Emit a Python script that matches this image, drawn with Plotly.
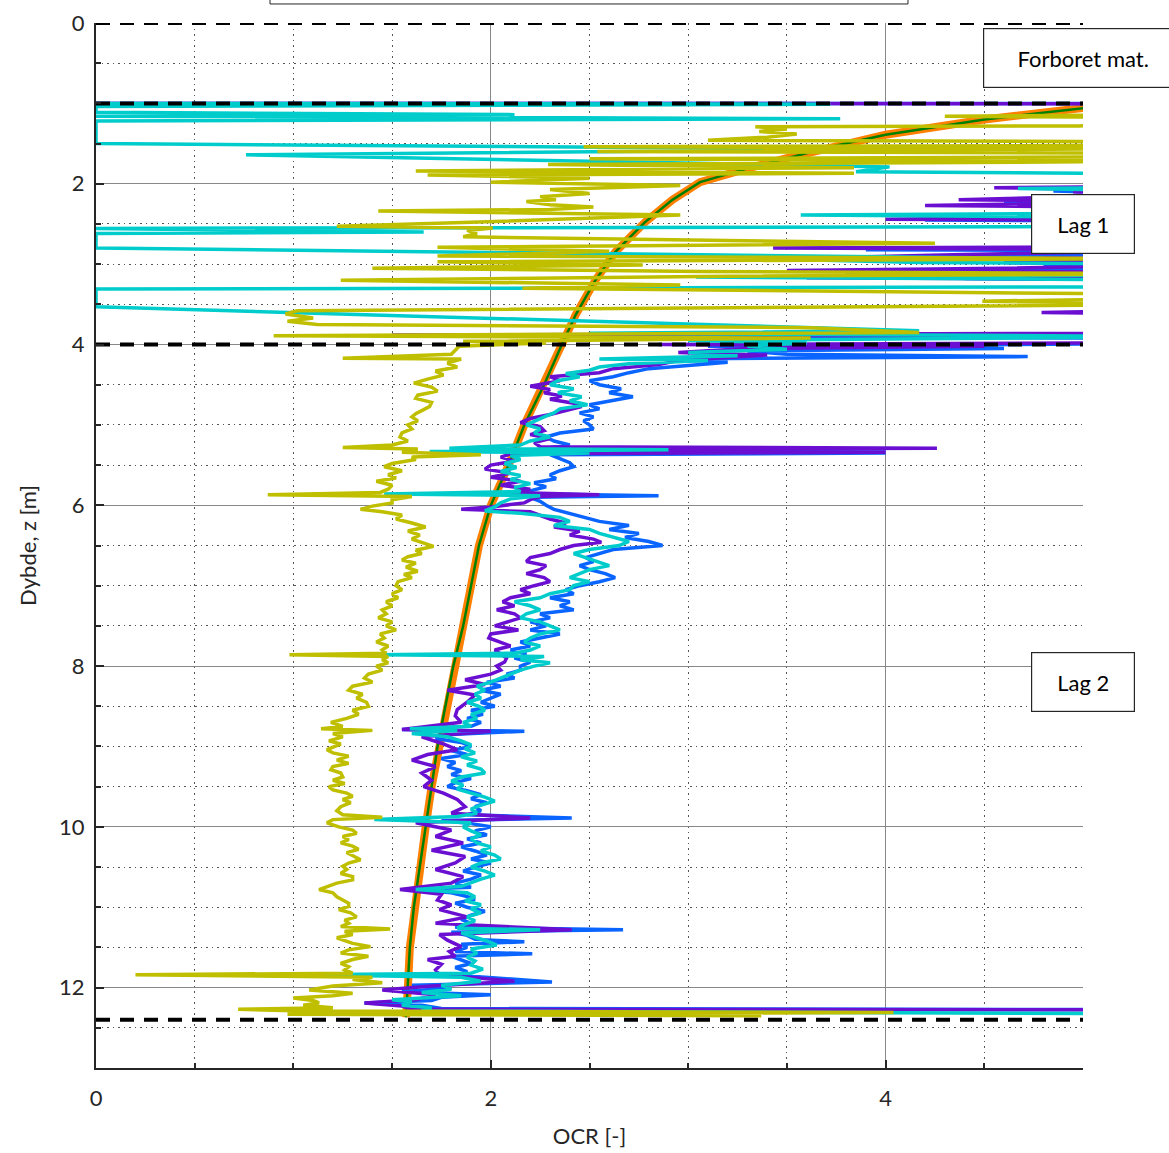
import plotly.graph_objects as go

# layer boundaries [m]
boundary_depths = [0.0, 1.0, 4.0, 12.4]

# theoretical OCR profile
ocr_line_depth = [1.0, 1.06, 1.2, 1.39, 1.53, 1.68, 1.83, 1.98, 2.2, 2.48, 2.85, 3.2, 3.63, 4.0, 4.5,
                  5.0, 5.5, 6.0, 6.5, 7.0, 7.5, 8.0, 8.5, 9.0, 9.5, 10.0, 10.5, 11.0, 11.5, 12.0, 12.37]
ocr_line_value = [5.2, 5.0, 4.5, 4.0, 3.74, 3.5, 3.27, 3.06, 2.92, 2.78, 2.63, 2.53, 2.43, 2.36, 2.27,
                  2.17, 2.09, 2.0, 1.94, 1.9, 1.86, 1.81, 1.77, 1.73, 1.70, 1.67, 1.64, 1.61, 1.59, 1.58, 1.57]

# CPTU derived OCR (four correlations), (depth, OCR)
purple_pts = [
    (1.00, -0.5), (1.005, 7.0), (1.5, 8.0), (2.0, 7.0), (2.02, 6.0), (2.05, 4.55), (2.07, 5.2), (2.10, 4.95),
    (2.14, 5.3), (2.18, 4.75), (2.2, 4.37), (2.22, 5.5), (2.27, 4.2), (2.3, 5.5), (2.4, 5.6), (2.44, 4.0),
    (2.46, 5.6), (2.6, 6.0), (2.78, 6.0), (2.8, 3.43), (2.82, 5.8), (2.88, 4.4), (2.91, 3.85), (2.93, 5.5),
    (2.98, 4.6), (3.0, 5.8), (3.05, 4.6), (3.08, 3.5), (3.1, 5.6), (3.14, 4.9), (3.17, 3.6), (3.19, 5.7),
    (3.4, 6.0), (3.58, 5.4), (3.6, 4.79), (3.63, 5.5), (3.8, 6.0), (3.86, 5.5), (3.88, 1.5), (3.9, 5.8),
    (3.97, 6.0), (4.0, 2.85), (4.02, 4.5), (4.05, 3.3), (4.1, 2.95), (4.13, 3.4), (4.17, 3.1), (4.2, 2.95),
    (4.25, 2.85), (4.3, 2.62), (4.35, 2.55), (4.4, 2.3), (4.45, 2.35), (4.52, 2.2), (4.56, 2.3), (4.6, 2.27),
    (4.64, 2.36), (4.68, 2.3), (4.73, 2.42), (4.77, 2.46), (4.82, 2.38), (4.87, 2.3), (4.92, 2.2), (4.97, 2.15),
    (5.02, 2.25), (5.07, 2.27), (5.12, 2.2), (5.17, 2.3), (5.22, 2.22), (5.27, 2.25), (5.29, 4.26), (5.31, 2.0),
    (5.34, 4.0), (5.36, 2.1), (5.4, 2.05), (5.45, 2.12), (5.5, 2.0), (5.55, 1.97), (5.6, 2.1), (5.65, 2.0),
    (5.7, 2.15), (5.75, 2.05), (5.8, 2.2), (5.84, 2.1), (5.87, 2.55), (5.89, 2.25), (5.93, 2.2), (5.97, 2.17),
    (6.02, 2.0), (6.05, 1.85), (6.08, 2.2), (6.12, 2.25), (6.17, 2.3), (6.22, 2.38), (6.27, 2.32), (6.32, 2.45),
    (6.37, 2.4), (6.42, 2.52), (6.46, 2.56), (6.5, 2.42), (6.55, 2.35), (6.6, 2.3), (6.65, 2.2), (6.7, 2.18),
    (6.75, 2.28), (6.8, 2.25), (6.85, 2.18), (6.9, 2.27), (6.95, 2.3), (7.0, 2.22), (7.05, 2.15), (7.1, 2.2),
    (7.15, 2.1), (7.2, 2.06), (7.25, 2.12), (7.3, 2.03), (7.35, 2.12), (7.4, 2.15), (7.45, 2.08), (7.5, 2.02),
    (7.55, 2.14), (7.6, 2.0), (7.65, 1.99), (7.7, 2.05), (7.75, 2.1), (7.8, 2.02), (7.85, 2.05), (7.9, 2.08),
    (7.95, 2.07), (8.0, 2.03), (8.05, 2.05), (8.1, 2.0), (8.17, 1.87), (8.23, 1.97), (8.3, 1.78), (8.36, 1.92),
    (8.45, 1.88), (8.54, 1.83), (8.62, 1.82), (8.7, 1.85), (8.79, 1.55), (8.81, 2.0), (8.88, 1.65), (8.96, 1.75),
    (9.04, 1.83), (9.1, 1.68), (9.17, 1.60), (9.25, 1.72), (9.33, 1.65), (9.42, 1.70), (9.5, 1.66), (9.58, 1.76),
    (9.66, 1.83), (9.75, 1.87), (9.83, 1.80), (9.89, 2.2), (9.95, 1.62), (10.04, 1.8), (10.12, 1.72), (10.2, 1.86),
    (10.29, 1.70), (10.37, 1.87), (10.45, 1.82), (10.53, 1.72), (10.62, 1.86), (10.7, 1.80), (10.78, 1.54),
    (10.84, 1.75), (10.91, 1.73), (10.97, 1.80), (11.03, 1.74), (11.12, 1.88), (11.2, 1.72), (11.28, 2.41),
    (11.34, 1.74), (11.41, 1.78), (11.49, 1.85), (11.55, 1.79), (11.61, 1.82), (11.65, 1.68), (11.71, 1.75),
    (11.78, 1.72), (11.84, 1.74), (11.92, 2.12), (11.98, 1.70), (12.03, 1.45), (12.09, 1.72), (12.15, 1.62),
    (12.19, 1.36), (12.23, 1.55), (12.27, 1.6), (12.28, 7.0),
]

blue_pts = [
    (1.00, -0.5), (1.004, 7.0), (1.6, 8.0), (2.0, 7.0), (2.06, 5.3), (2.09, 4.85), (2.12, 5.4), (2.2, 5.6),
    (2.24, 4.6), (2.27, 5.5), (2.42, 5.6), (2.45, 4.2), (2.47, 5.6), (2.8, 6.0), (2.82, 3.9), (2.84, 5.7),
    (2.9, 4.7), (2.93, 4.0), (2.95, 5.5), (3.0, 4.8), (3.02, 5.7), (3.1, 3.8), (3.12, 5.6), (3.18, 4.4),
    (3.2, 5.7), (3.86, 6.0), (3.9, 3.5), (3.93, 5.8), (3.98, 6.0), (4.02, 3.1), (4.05, 4.6), (4.08, 3.3),
    (4.12, 3.5), (4.15, 4.72), (4.18, 2.86), (4.22, 3.2), (4.26, 3.0), (4.3, 2.8), (4.35, 2.7), (4.4, 2.62),
    (4.45, 2.5), (4.5, 2.55), (4.55, 2.66), (4.6, 2.6), (4.65, 2.72), (4.7, 2.62), (4.75, 2.5), (4.8, 2.55),
    (4.85, 2.45), (4.9, 2.52), (4.95, 2.47), (5.0, 2.5), (5.05, 2.52), (5.1, 2.35), (5.15, 2.28), (5.2, 2.32),
    (5.25, 2.4), (5.28, 2.3), (5.30, 4.0), (5.32, 2.2), (5.35, 4.0), (5.37, 2.3), (5.42, 2.35), (5.47, 2.4),
    (5.52, 2.42), (5.57, 2.35), (5.62, 2.3), (5.67, 2.33), (5.72, 2.22), (5.77, 2.28), (5.82, 2.2), (5.86, 2.25),
    (5.88, 2.85), (5.9, 2.2), (5.95, 2.25), (6.0, 2.28), (6.05, 2.32), (6.1, 2.4), (6.15, 2.48), (6.2, 2.55),
    (6.25, 2.7), (6.3, 2.6), (6.35, 2.75), (6.4, 2.68), (6.45, 2.8), (6.5, 2.87), (6.55, 2.62), (6.6, 2.55),
    (6.65, 2.48), (6.7, 2.52), (6.75, 2.45), (6.8, 2.5), (6.85, 2.58), (6.9, 2.63), (6.95, 2.55), (7.0, 2.45),
    (7.05, 2.38), (7.1, 2.42), (7.15, 2.3), (7.2, 2.4), (7.25, 2.35), (7.3, 2.42), (7.35, 2.25), (7.4, 2.3),
    (7.45, 2.2), (7.5, 2.28), (7.55, 2.2), (7.6, 2.35), (7.65, 2.25), (7.7, 2.15), (7.75, 2.2), (7.8, 2.1),
    (7.85, 2.18), (7.9, 2.12), (7.95, 2.2), (8.0, 2.15), (8.05, 2.15), (8.1, 2.08), (8.15, 2.12), (8.2, 1.98),
    (8.25, 2.05), (8.3, 1.95), (8.35, 2.05), (8.4, 2.0), (8.45, 1.95), (8.5, 2.02), (8.55, 1.9), (8.6, 1.96),
    (8.65, 1.88), (8.7, 1.95), (8.75, 1.9), (8.79, 1.55), (8.81, 2.17), (8.85, 1.8), (8.9, 1.72), (8.95, 1.85),
    (9.0, 1.9), (9.05, 1.8), (9.1, 1.88), (9.15, 1.75), (9.2, 1.82), (9.25, 1.78), (9.3, 1.85), (9.35, 1.8),
    (9.4, 1.9), (9.45, 1.82), (9.5, 1.78), (9.55, 1.88), (9.6, 1.95), (9.65, 1.9), (9.7, 1.98), (9.75, 1.92),
    (9.8, 1.95), (9.85, 1.88), (9.89, 2.41), (9.92, 1.75), (9.96, 1.9), (10.0, 2.0), (10.05, 1.92), (10.1, 1.98),
    (10.15, 1.88), (10.2, 1.95), (10.25, 1.85), (10.3, 1.92), (10.35, 1.98), (10.4, 1.9), (10.45, 2.0),
    (10.5, 1.92), (10.55, 1.86), (10.6, 1.95), (10.65, 1.9), (10.7, 1.82), (10.75, 1.9), (10.78, 1.6),
    (10.82, 1.8), (10.86, 1.87), (10.9, 1.92), (10.95, 1.82), (11.0, 1.88), (11.05, 1.97), (11.1, 1.9),
    (11.15, 1.85), (11.2, 1.9), (11.25, 1.82), (11.28, 2.67), (11.31, 1.8), (11.35, 1.88), (11.4, 1.92),
    (11.43, 2.17), (11.46, 1.85), (11.5, 1.88), (11.55, 1.82), (11.58, 2.21), (11.61, 1.8), (11.65, 1.85),
    (11.7, 1.9), (11.75, 1.82), (11.8, 1.88), (11.85, 1.85), (11.93, 2.31), (11.97, 1.6), (12.0, 1.8),
    (12.05, 1.55), (12.09, 2.0), (12.12, 1.75), (12.16, 1.7), (12.19, 1.36), (12.22, 1.65), (12.26, 1.75),
    (12.28, 7.0),
]

cyan_pts = [
    (1.00, -0.3), (1.01, 3.72), (1.04, 0.0), (1.11, 0.0), (1.14, 2.12), (1.16, 0.0), (1.19, 3.77), (1.22, 0.0),
    (1.5, 0.0), (1.57, 3.92), (1.64, 0.76), (1.79, 4.02), (1.85, 3.85), (1.88, 5.6), (2.04, 5.6), (2.06, 4.67),
    (2.09, 5.6), (2.36, 5.6), (2.39, 3.57), (2.42, 5.6), (2.53, 5.6), (2.555, 0.0), (2.6, 1.66), (2.62, 0.0),
    (2.8, 0.0), (2.93, 4.8), (2.95, 3.69), (2.98, 4.17), (3.0, 5.6), (3.13, 5.6), (3.16, 3.04), (3.2, 5.6),
    (3.28, 5.6), (3.31, 0.0), (3.53, 0.0), (3.83, 4.17), (3.86, 2.5), (3.9, 5.6), (3.95, 3.0), (3.98, 3.6),
    (4.02, 3.3), (4.06, 3.5), (4.1, 3.0), (4.14, 3.25), (4.18, 2.55), (4.2, 3.1), (4.24, 2.7), (4.28, 2.55),
    (4.32, 2.5), (4.36, 2.38), (4.4, 2.45), (4.45, 2.34), (4.5, 2.3), (4.55, 2.42), (4.6, 2.34), (4.65, 2.46),
    (4.7, 2.4), (4.75, 2.49), (4.8, 2.35), (4.85, 2.32), (4.9, 2.27), (4.95, 2.22), (5.0, 2.18), (5.05, 2.25),
    (5.1, 2.22), (5.15, 2.3), (5.2, 2.2), (5.25, 2.15), (5.29, 1.79), (5.31, 2.9), (5.33, 1.69), (5.35, 2.5),
    (5.38, 2.1), (5.43, 2.15), (5.48, 2.07), (5.53, 2.13), (5.58, 2.05), (5.63, 2.15), (5.68, 2.1), (5.73, 2.2),
    (5.78, 2.12), (5.83, 2.15), (5.86, 1.46), (5.88, 2.25), (5.92, 2.1), (5.97, 2.05), (6.02, 2.02), (6.07, 1.97),
    (6.1, 2.15), (6.15, 2.35), (6.2, 2.4), (6.25, 2.32), (6.3, 2.5), (6.35, 2.55), (6.4, 2.62), (6.45, 2.7),
    (6.5, 2.65), (6.55, 2.5), (6.6, 2.42), (6.65, 2.48), (6.7, 2.55), (6.75, 2.6), (6.8, 2.5), (6.85, 2.45),
    (6.9, 2.4), (6.95, 2.5), (7.0, 2.42), (7.05, 2.4), (7.1, 2.3), (7.15, 2.25), (7.2, 2.12), (7.25, 2.2),
    (7.3, 2.25), (7.35, 2.18), (7.4, 2.15), (7.45, 2.25), (7.5, 2.3), (7.55, 2.35), (7.6, 2.25), (7.65, 2.2),
    (7.7, 2.17), (7.75, 2.25), (7.8, 2.2), (7.84, 2.12), (7.86, 1.44), (7.88, 2.27), (7.92, 2.15), (7.96, 2.3),
    (8.0, 2.22), (8.05, 2.15), (8.1, 2.1), (8.15, 2.05), (8.2, 2.0), (8.25, 1.93), (8.3, 1.97), (8.35, 1.92),
    (8.4, 1.95), (8.45, 1.88), (8.5, 1.94), (8.55, 1.97), (8.6, 1.9), (8.65, 1.93), (8.7, 1.86), (8.75, 1.9),
    (8.78, 1.59), (8.8, 1.83), (8.84, 1.6), (8.88, 1.78), (8.93, 1.85), (8.98, 1.9), (9.03, 1.87), (9.08, 1.92),
    (9.13, 1.85), (9.18, 1.93), (9.23, 1.88), (9.28, 1.95), (9.33, 1.97), (9.38, 1.85), (9.43, 1.8), (9.48, 1.86),
    (9.53, 1.83), (9.58, 1.9), (9.63, 1.97), (9.68, 2.02), (9.73, 1.95), (9.78, 1.9), (9.83, 1.93), (9.87, 1.83),
    (9.91, 1.41), (9.95, 1.9), (10.0, 1.86), (10.05, 1.9), (10.1, 1.95), (10.15, 1.9), (10.2, 1.93), (10.25, 2.0),
    (10.3, 1.95), (10.35, 2.02), (10.4, 2.05), (10.45, 1.95), (10.5, 1.9), (10.55, 1.97), (10.6, 2.02),
    (10.65, 1.95), (10.7, 1.9), (10.74, 1.85), (10.78, 1.62), (10.82, 1.88), (10.87, 1.92), (10.92, 1.87),
    (10.97, 1.95), (11.02, 1.9), (11.07, 1.95), (11.12, 1.88), (11.17, 1.92), (11.22, 1.86), (11.26, 1.83),
    (11.28, 2.25), (11.32, 1.85), (11.37, 1.92), (11.42, 1.98), (11.47, 2.03), (11.52, 1.9), (11.57, 1.93),
    (11.62, 1.88), (11.67, 1.92), (11.72, 1.9), (11.77, 1.96), (11.82, 1.9), (11.84, 1.06), (11.87, 1.85),
    (11.92, 1.95), (11.97, 1.75), (12.02, 1.8), (12.06, 1.65), (12.1, 1.85), (12.15, 1.5), (12.18, 1.6),
    (12.22, 1.55), (12.25, 1.7), (12.29, 1.65), (12.34, 7.0),
]

olive_pts = [
    (1.00, 7.0), (1.13, 6.0), (1.16, 4.3), (1.18, 5.6), (1.26, 5.6), (1.28, 4.98), (1.29, 3.34), (1.32, 3.5),
    (1.35, 3.36), (1.38, 3.55), (1.42, 3.4), (1.46, 3.1), (1.48, 5.6), (1.52, 5.6), (1.54, 2.47), (1.56, 5.6),
    (1.6, 2.54), (1.62, 5.6), (1.66, 5.6), (1.69, 2.5), (1.72, 5.6), (1.76, 2.29), (1.8, 3.84), (1.84, 1.62),
    (1.87, 3.84), (1.89, 1.68), (1.93, 2.5), (1.98, 2.0), (2.02, 2.96), (2.07, 2.3), (2.12, 2.5), (2.16, 2.25),
    (2.2, 2.33), (2.22, 2.18), (2.26, 2.3), (2.29, 2.52), (2.32, 2.3), (2.34, 1.43), (2.39, 2.96), (2.44, 2.4),
    (2.48, 1.9), (2.53, 1.22), (2.55, 2.01), (2.58, 1.88), (2.62, 1.93), (2.66, 1.86), (2.74, 4.25), (2.79, 1.73),
    (2.84, 2.6), (2.9, 1.73), (2.93, 5.6), (2.97, 1.73), (3.01, 2.77), (3.05, 1.4), (3.09, 3.07), (3.12, 5.6),
    (3.15, 3.2), (3.2, 1.24), (3.26, 2.96), (3.3, 2.16), (3.38, 5.6), (3.42, 5.6), (3.46, 4.49), (3.5, 5.6),
    (3.58, 1.02), (3.62, 0.96), (3.67, 1.1), (3.71, 0.97), (3.75, 1.12), (3.79, 3.62), (3.85, 4.17), (3.89, 0.9),
    (3.92, 3.62), (3.96, 1.86), (3.98, 2.28), (4.02, 1.84), (4.07, 1.82), (4.12, 1.8), (4.17, 1.25), (4.18, 1.85),
    (4.23, 1.78), (4.28, 1.83), (4.33, 1.72), (4.38, 1.76), (4.43, 1.68), (4.48, 1.61), (4.53, 1.7), (4.58, 1.73),
    (4.63, 1.63), (4.67, 1.62), (4.72, 1.7), (4.77, 1.69), (4.81, 1.66), (4.86, 1.62), (4.9, 1.6), (4.95, 1.63),
    (5.0, 1.58), (5.05, 1.6), (5.1, 1.55), (5.15, 1.54), (5.2, 1.58), (5.25, 1.5), (5.28, 1.25), (5.3, 1.63),
    (5.34, 1.55), (5.37, 1.95), (5.4, 1.6), (5.43, 1.62), (5.48, 1.5), (5.52, 1.46), (5.57, 1.55), (5.62, 1.48),
    (5.66, 1.52), (5.7, 1.42), (5.75, 1.5), (5.8, 1.48), (5.84, 1.44), (5.87, 0.87), (5.89, 1.6), (5.93, 1.5),
    (5.97, 1.5), (6.01, 1.4), (6.05, 1.34), (6.08, 1.45), (6.12, 1.55), (6.17, 1.52), (6.22, 1.6), (6.27, 1.67),
    (6.32, 1.58), (6.37, 1.64), (6.42, 1.6), (6.47, 1.66), (6.51, 1.71), (6.56, 1.62), (6.6, 1.65), (6.64, 1.58),
    (6.68, 1.55), (6.72, 1.62), (6.77, 1.57), (6.82, 1.63), (6.86, 1.56), (6.9, 1.6), (6.95, 1.53), (7.0, 1.52),
    (7.05, 1.55), (7.1, 1.5), (7.15, 1.53), (7.2, 1.47), (7.25, 1.5), (7.3, 1.45), (7.35, 1.47), (7.4, 1.43),
    (7.45, 1.5), (7.5, 1.47), (7.55, 1.52), (7.6, 1.44), (7.65, 1.46), (7.7, 1.42), (7.75, 1.48), (7.8, 1.45),
    (7.84, 1.47), (7.86, 0.98), (7.88, 1.48), (7.92, 1.45), (7.96, 1.48), (8.0, 1.42), (8.05, 1.45), (8.1, 1.38),
    (8.15, 1.36), (8.2, 1.4), (8.25, 1.3), (8.3, 1.28), (8.35, 1.35), (8.4, 1.32), (8.45, 1.37), (8.5, 1.38),
    (8.55, 1.3), (8.6, 1.33), (8.65, 1.27), (8.7, 1.19), (8.75, 1.25), (8.78, 1.14), (8.8, 1.4), (8.84, 1.2),
    (8.88, 1.25), (8.93, 1.18), (8.97, 1.24), (9.0, 1.21), (9.04, 1.17), (9.08, 1.2), (9.12, 1.28), (9.17, 1.22),
    (9.21, 1.28), (9.25, 1.2), (9.29, 1.19), (9.33, 1.24), (9.38, 1.25), (9.42, 1.2), (9.46, 1.26), (9.5, 1.18),
    (9.54, 1.2), (9.58, 1.27), (9.62, 1.3), (9.66, 1.25), (9.7, 1.29), (9.75, 1.24), (9.8, 1.22), (9.85, 1.25),
    (9.88, 1.45), (9.91, 1.2), (9.95, 1.17), (10.0, 1.23), (10.04, 1.3), (10.08, 1.32), (10.12, 1.25),
    (10.16, 1.28), (10.2, 1.24), (10.24, 1.3), (10.28, 1.33), (10.32, 1.27), (10.36, 1.3), (10.41, 1.34),
    (10.45, 1.28), (10.49, 1.25), (10.53, 1.27), (10.58, 1.24), (10.62, 1.3), (10.66, 1.3), (10.7, 1.22),
    (10.74, 1.18), (10.78, 1.13), (10.82, 1.2), (10.87, 1.22), (10.91, 1.25), (10.95, 1.28), (10.99, 1.28),
    (11.03, 1.23), (11.07, 1.29), (11.12, 1.32), (11.16, 1.26), (11.2, 1.28), (11.24, 1.24), (11.27, 1.49),
    (11.3, 1.26), (11.34, 1.3), (11.38, 1.22), (11.41, 1.26), (11.45, 1.3), (11.49, 1.39), (11.53, 1.28),
    (11.57, 1.24), (11.61, 1.38), (11.65, 1.3), (11.7, 1.24), (11.74, 1.28), (11.78, 1.26), (11.82, 1.3),
    (11.84, 0.2), (11.87, 1.4), (11.9, 1.3), (11.94, 1.45), (11.98, 1.2), (12.03, 1.08), (12.07, 1.3),
    (12.1, 1.2), (12.13, 1.0), (12.16, 1.1), (12.19, 1.13), (12.22, 1.05), (12.25, 1.2), (12.27, 0.72),
    (12.29, 1.05), (12.31, 4.04), (12.33, 0.97), (12.35, 3.37),
]

layer_labels = ["Forboret mat.", "Lag 1", "Lag 2"]
layer_label_depth = [0.435, 2.5, 8.2]

FONT = "Lato, 'Open Sans', sans-serif"

fig = go.Figure()

fig.add_trace(go.Scatter(x=ocr_line_value, y=ocr_line_depth, mode="lines",
                         line=dict(color="#ff8000", width=8)))
fig.add_trace(go.Scatter(x=ocr_line_value, y=ocr_line_depth, mode="lines",
                         line=dict(color="#008000", width=2.5)))

for pts, col in [(blue_pts, "#0a64ff"), (purple_pts, "#6a0fd2"),
                 (cyan_pts, "#00cccc"), (olive_pts, "#bfbf00")]:
    d, v = zip(*pts)
    fig.add_trace(go.Scatter(x=v, y=d, mode="lines", line=dict(color=col, width=3.5)))

for z in boundary_depths:
    fig.add_trace(go.Scatter(x=[0, 5], y=[z, z], mode="lines",
                             line=dict(color="black", width=4, dash="14px,10px")))

for txt, z in zip(layer_labels, layer_label_depth):
    w = 190 if txt.startswith("F") else 94
    fig.add_annotation(x=5, y=z, xref="x", yref="y", text=txt, showarrow=False,
                       font=dict(family=FONT, size=22, color="black"),
                       bgcolor="white", bordercolor="#262626", borderwidth=1.2,
                       width=w, height=50, borderpad=4)

# legend frame (mostly above the visible page)
fig.add_shape(type="rect", xref="paper", yref="paper", x0=0.1763, x1=0.8227, y0=1.0182, y1=1.2,
              line=dict(color="#262626", width=1), fillcolor="white")

axis_common = dict(
    showline=True, linecolor="#262626", linewidth=2, mirror=False, automargin=False,
    ticks="inside", tickcolor="#262626", ticklen=8, tickwidth=1.5,
    showgrid=True, gridcolor="#888888", gridwidth=1,
    tickfont=dict(family=FONT, size=22, color="#262626"),
    zeroline=False,
)

fig.update_xaxes(range=[0, 5], dtick=2, tick0=0,
                 title=dict(text="OCR [-]", font=dict(family=FONT, size=22, color="#262626"), standoff=18),
                 minor=dict(dtick=0.5, ticks="inside", ticklen=5, tickcolor="#262626",
                            showgrid=True, gridcolor="#555555", griddash="1.5px,4px", gridwidth=1),
                 ticklabelstandoff=10, **axis_common)
fig.update_yaxes(range=[13, 0], dtick=2, tick0=0,
                 title=dict(text="Dybde, z [m]", font=dict(family=FONT, size=22, color="#262626"), standoff=16),
                 minor=dict(dtick=0.5, ticks="inside", ticklen=5, tickcolor="#262626",
                            showgrid=True, gridcolor="#555555", griddash="1.5px,4px", gridwidth=1),
                 ticklabelstandoff=5, **axis_common)

fig.update_layout(
    width=1169, height=1153,
    margin=dict(l=96, r=86, t=23, b=85),
    plot_bgcolor="white", paper_bgcolor="white",
    showlegend=False,
)

# drop the default 8 px page margin so the figure fills the window exactly
fig.write_html("out.html", config={"displayModeBar": False},
               post_script="document.body.style.margin='0';")
